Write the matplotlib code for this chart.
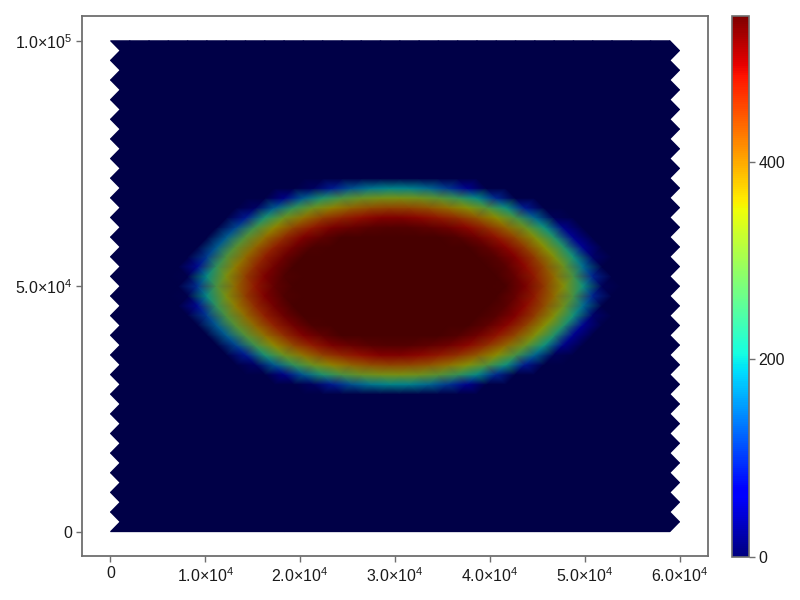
import numpy as np
import matplotlib
matplotlib.use("Agg")
import matplotlib.pyplot as plt
import matplotlib.tri as mtri
from matplotlib.colors import ListedColormap, Normalize
from matplotlib.cm import ScalarMappable

plt.rcParams['font.family'] = ['Liberation Sans', 'DejaVu Sans']
plt.rcParams['mathtext.fontset'] = 'custom'
plt.rcParams['mathtext.rm'] = 'Liberation Sans'
plt.rcParams['mathtext.it'] = 'Liberation Sans'
plt.rcParams['mathtext.bf'] = 'Liberation Sans'

# ---- data ----
center_x = 30000.0
center_y = 50000.0
# radial profile of the field: distance from centre -> value
profile_r = [0, 11500, 14000, 16000, 17800, 19000, 20000, 21200, 22000, 200000]
profile_v = [548, 548, 500, 430, 345, 270, 195, 80, 0, 0]
vmax = 548.0

# mesh: staggered rows
domain_x = 60000.0
domain_y = 100000.0
n_rows = 51
n_cols = 30

x_ticks = [0, 10000, 20000, 30000, 40000, 50000, 60000]
x_labels = ["0", r"$\mathrm{1.0{\times}10^{4}}$", r"$\mathrm{2.0{\times}10^{4}}$",
            r"$\mathrm{3.0{\times}10^{4}}$", r"$\mathrm{4.0{\times}10^{4}}$",
            r"$\mathrm{5.0{\times}10^{4}}$", r"$\mathrm{6.0{\times}10^{4}}$"]
y_ticks = [0, 50000, 100000]
y_labels = ["0", r"$\mathrm{5.0{\times}10^{4}}$", r"$\mathrm{1.0{\times}10^{5}}$"]
cbar_ticks = [0, 200, 400]
cbar_labels = ["0", "200", "400"]

# ---- build mesh ----
dx = domain_x / (n_cols - 0.5)
dy = domain_y / (n_rows - 1)
xs, ys, idx = [], [], {}
for j in range(n_rows):
    off = 0.0 if j % 2 == 0 else 0.5 * dx
    for i in range(n_cols):
        idx[(j, i)] = len(xs)
        xs.append(i * dx + off)
        ys.append(j * dy)
xs = np.array(xs)
ys = np.array(ys)
tris = []
for j in range(n_rows - 1):
    for i in range(n_cols - 1):
        a, b = idx[(j, i)], idx[(j, i + 1)]
        c, d = idx[(j + 1, i)], idx[(j + 1, i + 1)]
        if j % 2 == 0:
            tris.append([a, b, c])
            tris.append([c, b, d])
        else:
            tris.append([a, b, d])
            tris.append([c, a, d])
tri = mtri.Triangulation(xs, ys, np.array(tris))
r = np.hypot(xs - center_x, ys - center_y)
vals = np.interp(r, profile_r, profile_v)

# darkened jet for the shaded mesh
jet = plt.get_cmap('jet')
base = jet(np.linspace(0, 1, 256))
dark = base.copy()
dark[:, :3] *= 0.56
dark_cmap = ListedColormap(dark)

fig = plt.figure(figsize=(8, 6), dpi=100)
ax = fig.add_axes([0.1025, 0.073, 0.7825, 0.9])
ax.set_axisbelow(True)
ax.grid(True, color='#e3e3e3', linewidth=0.9)
ax.tripcolor(tri, vals, shading='gouraud', cmap=dark_cmap, vmin=0, vmax=vmax, zorder=2)
ax.set_xlim(-3000, 63000)
ax.set_ylim(-5000, 105000)
ax.set_xticks(x_ticks)
ax.set_xticklabels(x_labels)
ax.set_yticks(y_ticks)
ax.set_yticklabels(y_labels)
spc = '#6e6e6e'
for s in ax.spines.values():
    s.set_color(spc)
    s.set_linewidth(1.3)
ax.tick_params(direction='out', length=4, width=1, color=spc, labelsize=11.5,
               labelcolor='#1a1a1a', pad=3)

cax = fig.add_axes([0.915, 0.072, 0.021, 0.902])
cb = fig.colorbar(ScalarMappable(norm=Normalize(0, vmax), cmap=jet), cax=cax)
cb.set_ticks(cbar_ticks)
cb.set_ticklabels(cbar_labels)
cb.outline.set_edgecolor(spc)
cb.outline.set_linewidth(1.2)
cax.tick_params(direction='out', length=4, width=1, color=spc, labelsize=11.5,
                labelcolor='#1a1a1a', pad=3)

fig.savefig('out.png', dpi=100)
